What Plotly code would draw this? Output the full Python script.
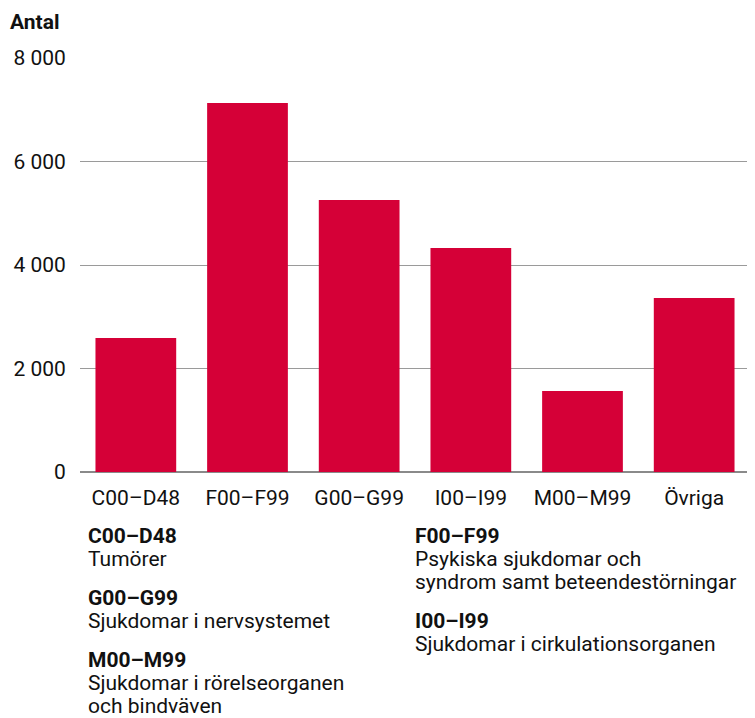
import plotly.graph_objects as go

categories = ["C00–D48", "F00–F99", "G00–G99", "I00–I99", "M00–M99", "Övriga"]
values = [2590, 7130, 5255, 4330, 1565, 3360]
tick_vals = [0, 2000, 4000, 6000, 8000]
tick_text = ["0", "2 000", "4 000", "6 000", "8 000"]

legend_left = [
    ("C00–D48", ["Tumörer"]),
    ("G00–G99", ["Sjukdomar i nervsystemet"]),
    ("M00–M99", ["Sjukdomar i rörelseorganen", "och bindväven"]),
]
legend_right = [
    ("F00–F99", ["Psykiska sjukdomar och", "syndrom samt beteendestörningar"]),
    ("I00–I99", ["Sjukdomar i cirkulationsorganen"]),
]

FONT = "Roboto"
FS = 21
OFF = 8  # page body margin
W, H = 755 - OFF, 718 - OFF
# plot area in reference (window) pixels
X0, X1, Y0, Y1 = 78, 750, 58, 472
L, R, T, B = X0 - OFF, W - (X1 - OFF), Y0 - OFF, H - (Y1 - OFF)
PH = Y1 - Y0
PW = X1 - X0

def px(x):
    return (x - X0) / PW

def py(y):
    return (Y1 - y) / PH

fig = go.Figure(go.Bar(x=categories, y=values, marker_color="#D50037",
                       marker_line_width=0, hoverinfo="skip"))

annotations = [dict(text="<b>Antal</b>", x=px(6), y=py(22), xref="paper", yref="paper",
                    xanchor="left", yanchor="middle", showarrow=False,
                    font=dict(family=FONT, size=FS, color="#111"))]

def add_col(items, x0, y0):
    y = y0
    for head, lines in items:
        annotations.append(dict(text="<b>" + head + "</b>", x=px(x0), y=py(y), xref="paper", yref="paper",
                                xanchor="left", yanchor="middle", showarrow=False,
                                font=dict(family=FONT, size=FS, color="#111")))
        y += 23
        for ln in lines:
            annotations.append(dict(text=ln, x=px(x0), y=py(y), xref="paper", yref="paper",
                                    xanchor="left", yanchor="middle", showarrow=False,
                                    font=dict(family=FONT, size=FS, color="#111")))
            y += 23
        y += 16

add_col(legend_left, 84, 536)
add_col(legend_right, 412, 536)

fig.update_layout(
    width=W, height=H,
    margin=dict(l=L, r=R, t=T, b=B, pad=0),
    plot_bgcolor="white", paper_bgcolor="white",
    bargap=0.277,
    showlegend=False,
    font=dict(family=FONT, size=FS, color="#111"),
    xaxis=dict(showgrid=False, showline=False, ticks="outside", ticklen=7,
               tickcolor="rgba(0,0,0,0)", tickfont=dict(family=FONT, size=FS, color="#111")),
    yaxis=dict(range=[0, 8000], tickvals=tick_vals, ticktext=tick_text,
               showgrid=True, gridcolor="#9a9a9a", gridwidth=1,
               zeroline=True, zerolinecolor="#8a8a8a", zerolinewidth=1.5,
               showline=False, ticks="outside", ticklen=9, tickcolor="rgba(0,0,0,0)",
               tickfont=dict(family=FONT, size=FS, color="#111")),
    annotations=annotations,
)

fig.write_html("out.html")
